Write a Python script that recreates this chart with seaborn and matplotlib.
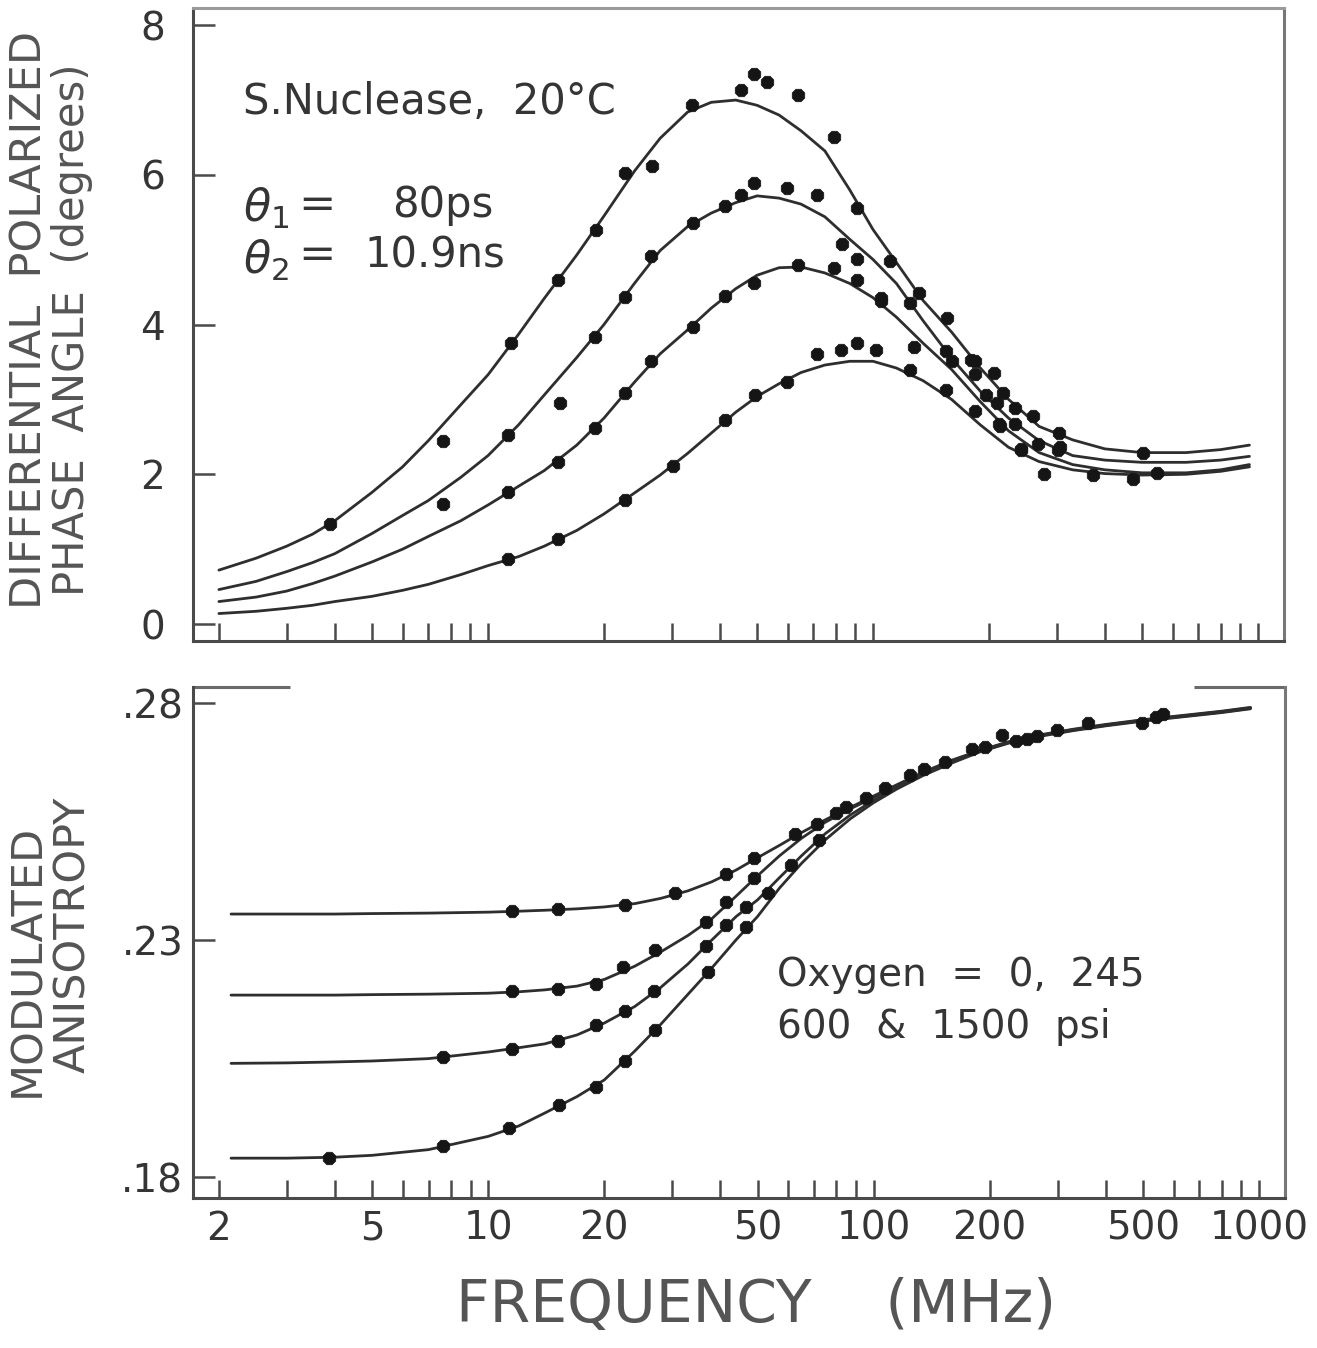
import numpy as np
import pandas as pd
import matplotlib
matplotlib.use("Agg")
import matplotlib.pyplot as plt
import seaborn as sns
from matplotlib.ticker import FixedLocator, FixedFormatter, NullLocator

# ---------------- data ----------------
# Top panel: differential polarized phase angle (degrees), fitted curves
top_freq = [2, 2.5, 3, 3.5, 4, 5, 6, 7, 8.5, 10, 12, 14, 17, 20, 24, 28, 33, 38, 44, 50,
            57, 65, 75, 87, 100, 115, 135, 160, 190, 225, 270, 330, 400, 500, 650, 800, 950]
top_curve1 = [0.72, 0.88, 1.04, 1.20, 1.38, 1.76, 2.10, 2.45, 2.93, 3.33, 3.87, 4.35, 4.93,
              5.45, 6.05, 6.49, 6.84, 6.97, 7.00, 6.93, 6.80, 6.59, 6.32, 5.80, 5.27, 4.83,
              4.32, 3.90, 3.42, 3.00, 2.64, 2.46, 2.34, 2.29, 2.29, 2.33, 2.39]
top_curve2 = [0.46, 0.57, 0.70, 0.82, 0.94, 1.21, 1.45, 1.65, 1.96, 2.25, 2.66, 3.06, 3.56,
              4.00, 4.55, 4.99, 5.31, 5.49, 5.63, 5.72, 5.69, 5.61, 5.44, 5.14, 4.87, 4.55,
              4.05, 3.55, 3.11, 2.75, 2.45, 2.25, 2.19, 2.16, 2.16, 2.19, 2.24]
top_curve3 = [0.30, 0.36, 0.44, 0.54, 0.64, 0.83, 1.00, 1.17, 1.38, 1.59, 1.84, 2.05, 2.39,
              2.75, 3.23, 3.61, 3.93, 4.22, 4.48, 4.66, 4.76, 4.77, 4.69, 4.55, 4.36, 4.10,
              3.75, 3.40, 2.97, 2.58, 2.29, 2.13, 2.06, 2.02, 2.02, 2.06, 2.13]
top_curve4 = [0.14, 0.17, 0.21, 0.25, 0.30, 0.37, 0.45, 0.53, 0.66, 0.78, 0.90, 1.04, 1.25,
              1.47, 1.75, 1.99, 2.28, 2.55, 2.83, 3.04, 3.21, 3.36, 3.46, 3.51, 3.51, 3.42,
              3.25, 3.00, 2.66, 2.36, 2.17, 2.06, 2.01, 1.99, 2.00, 2.04, 2.10]

# Top panel measured points
top_pts1_f = [3.89, 7.65, 11.5, 15.2, 19.1, 22.7, 26.7, 33.8, 45.4, 49.1, 53.1, 63.8, 79.2,
              90.8, 110.6, 131.5, 156, 184, 206, 218, 234, 260, 304, 502]
top_pts1_v = [1.33, 2.45, 3.76, 4.60, 5.27, 6.03, 6.12, 6.93, 7.13, 7.35, 7.24, 7.07, 6.50,
              5.56, 4.85, 4.42, 4.09, 3.51, 3.35, 3.09, 2.89, 2.78, 2.55, 2.28]
top_pts2_f = [7.62, 11.3, 15.4, 19.0, 22.7, 26.5, 34, 41.3, 45.4, 49.1, 59.8, 71.6, 83, 90.8,
              105, 125, 155, 180, 197, 210, 234, 268, 306, 372, 473, 545]
top_pts2_v = [1.60, 2.53, 2.95, 3.84, 4.37, 4.91, 5.36, 5.58, 5.73, 5.89, 5.82, 5.73, 5.08,
              4.87, 4.35, 4.29, 3.65, 3.53, 3.06, 2.95, 2.67, 2.41, 2.36, 1.99, 1.94, 2.02]
top_pts3_f = [11.3, 15.2, 19.0, 22.7, 26.5, 34, 41.3, 49.1, 63.8, 79.2, 90.8, 105, 128, 160,
              184, 212, 242, 278, 302]
top_pts3_v = [1.77, 2.17, 2.62, 3.09, 3.51, 3.97, 4.38, 4.56, 4.79, 4.76, 4.59, 4.32, 3.70,
              3.51, 3.34, 2.67, 2.33, 2.00, 2.33]
top_pts4_f = [11.3, 15.2, 22.7, 30.2, 41.3, 49.4, 59.8, 71.6, 82.6, 90.8, 102, 125, 155, 184,
              214, 242]
top_pts4_v = [0.87, 1.13, 1.66, 2.11, 2.72, 3.06, 3.23, 3.61, 3.66, 3.76, 3.66, 3.40, 3.13,
              2.84, 2.64, 2.34]

# Bottom panel: modulated anisotropy, fitted curves (oxygen 0, 245, 600, 1500 psi)
bot_freq = [2.15, 3, 4, 5, 7, 10, 12, 14, 17, 20, 24, 28, 33, 38, 44, 50, 57, 65, 75, 87,
            100, 115, 135, 160, 190, 225, 270, 330, 400, 500, 650, 800, 950]
bot_curveA = [0.2355, 0.2355, 0.2355, 0.2356, 0.2357, 0.2359, 0.2361, 0.2363, 0.2366, 0.2370,
              0.2377, 0.2388, 0.2404, 0.2423, 0.2448, 0.2474, 0.2500, 0.2527, 0.2554, 0.2580,
              0.2604, 0.2628, 0.2655, 0.2680, 0.2701, 0.2719, 0.2733, 0.2745, 0.2755, 0.2765,
              0.2775, 0.2783, 0.2791]
bot_curveB = [0.2184, 0.2184, 0.2184, 0.2185, 0.2186, 0.2188, 0.2191, 0.2195, 0.2203, 0.2217,
              0.2245, 0.2275, 0.2310, 0.2345, 0.2393, 0.2436, 0.2478, 0.2515, 0.2549, 0.2577,
              0.2601, 0.2626, 0.2653, 0.2678, 0.2700, 0.2718, 0.2732, 0.2744, 0.2754, 0.2764,
              0.2774, 0.2782, 0.2790]
bot_curveC = [0.2040, 0.2041, 0.2043, 0.2045, 0.2050, 0.2064, 0.2073, 0.2081, 0.2100, 0.2125,
              0.2160, 0.2200, 0.2250, 0.2300, 0.2350, 0.2385, 0.2432, 0.2478, 0.2525, 0.2564,
              0.2595, 0.2622, 0.2650, 0.2676, 0.2699, 0.2717, 0.2731, 0.2743, 0.2753, 0.2763,
              0.2773, 0.2781, 0.2789]
bot_curveD = [0.1840, 0.1840, 0.1842, 0.1846, 0.1858, 0.1886, 0.1908, 0.1935, 0.1970, 0.2005,
              0.2066, 0.2122, 0.2186, 0.2241, 0.2301, 0.2350, 0.2410, 0.2462, 0.2512, 0.2556,
              0.2590, 0.2619, 0.2648, 0.2674, 0.2698, 0.2716, 0.2730, 0.2742, 0.2752, 0.2762,
              0.2772, 0.2780, 0.2788]

# Bottom panel measured points
bot_ptsA_f = [11.5, 15.2, 22.7, 30.6, 41.4, 48.8, 62.5, 80, 124, 194, 266, 496]
bot_ptsA_v = [0.2361, 0.2366, 0.2374, 0.2399, 0.2440, 0.2473, 0.2524, 0.2568, 0.2649, 0.2708,
              0.2731, 0.2758]
bot_ptsB_f = [11.5, 15.2, 19.0, 22.3, 27.0, 36.7, 41.4, 48.8, 71.1, 107, 180, 234, 361]
bot_ptsB_v = [0.2192, 0.2197, 0.2208, 0.2243, 0.2279, 0.2338, 0.2381, 0.2431, 0.2546, 0.2621,
              0.2703, 0.2720, 0.2757]
bot_ptsC_f = [7.65, 11.5, 15.2, 19.0, 22.7, 26.9, 36.7, 41.4, 46.6, 53.1, 72, 95.5, 153, 215,
              299, 565]
bot_ptsC_v = [0.2053, 0.2071, 0.2087, 0.2121, 0.2150, 0.2192, 0.2287, 0.2331, 0.2369, 0.2399,
              0.2512, 0.2599, 0.2676, 0.2733, 0.2743, 0.2776]
bot_ptsD_f = [3.87, 7.62, 11.3, 15.3, 19.0, 22.7, 27.1, 37.2, 46.6, 60.9, 85, 135, 250, 540]
bot_ptsD_v = [0.1841, 0.1865, 0.1903, 0.1952, 0.1990, 0.2045, 0.2110, 0.2232, 0.2327, 0.2459,
              0.2580, 0.2660, 0.2725, 0.2770]

x_ticks = [2, 3, 4, 5, 6, 7, 8, 9, 10, 20, 30, 40, 50, 60, 70, 80, 90, 100,
           200, 300, 400, 500, 600, 700, 800, 900, 1000]
x_labeled = {2: "2", 5: "5", 10: "10", 20: "20", 50: "50", 100: "100",
             200: "200", 500: "500", 1000: "1000"}
top_yticks = [0, 2, 4, 6, 8]
top_ylabels = ["0", "2", "4", "6", "8"]
bot_yticks = [0.18, 0.23, 0.28]
bot_ylabels = [".18", ".23", ".28"]

# ---------------- tables ----------------
def long_df(freq, curves):
    rows = []
    for name, vals in curves.items():
        for f, v in zip(freq, vals):
            rows.append({"freq": f, "value": v, "series": name})
    return pd.DataFrame(rows)

def pts_df(pairs):
    rows = []
    for name, (fs, vs) in pairs.items():
        for f, v in zip(fs, vs):
            rows.append({"freq": f, "value": v, "series": name})
    return pd.DataFrame(rows)

top_lines = long_df(top_freq, {"1": top_curve1, "2": top_curve2, "3": top_curve3, "4": top_curve4})
bot_lines = long_df(bot_freq, {"A": bot_curveA, "B": bot_curveB, "C": bot_curveC, "D": bot_curveD})
top_pts = pts_df({"1": (top_pts1_f, top_pts1_v), "2": (top_pts2_f, top_pts2_v),
                  "3": (top_pts3_f, top_pts3_v), "4": (top_pts4_f, top_pts4_v)})
bot_pts = pts_df({"A": (bot_ptsA_f, bot_ptsA_v), "B": (bot_ptsB_f, bot_ptsB_v),
                  "C": (bot_ptsC_f, bot_ptsC_v), "D": (bot_ptsD_f, bot_ptsD_v)})

# ---------------- figure ----------------
sns.set_theme(style="ticks")
plt.rcParams['font.family'] = ['DejaVu Sans']
plt.rcParams['mathtext.fontset'] = 'dejavusans'

W, H = 1317, 1348
fig = plt.figure(figsize=(W / 100, H / 100), dpi=100)
fig.patch.set_facecolor("white")

def fx(px):
    return px / W

def fy(py):
    return 1 - py / H

ax1 = fig.add_axes([fx(193), fy(641), fx(1284) - fx(193), fy(8) - fy(641)])
ax2 = fig.add_axes([fx(193), fy(1197.5), fx(1285) - fx(193), fy(687) - fy(1197.5)])

LINE_C = "#2e2e2e"
PT_C = "#151515"
TXT_C = "#353535"
SPINE_C = "#4a4a4a"
LAB_C = "#555555"

for ax, lines, pts in [(ax1, top_lines, top_pts), (ax2, bot_lines, bot_pts)]:
    ax.set_xscale("log")
    sns.lineplot(data=lines, x="freq", y="value", units="series", estimator=None,
                 color=LINE_C, lw=2.0, sort=False, legend=False, ax=ax)
    sns.scatterplot(data=pts, x="freq", y="value", marker="8", s=95, color=PT_C,
                    edgecolor=PT_C, linewidth=0.5, legend=False, ax=ax, zorder=5)
    ax.set_xlim(1.713, 1168)
    ax.xaxis.set_major_locator(FixedLocator(x_ticks))
    ax.xaxis.set_minor_locator(NullLocator())
    ax.set_xlabel("")
    ax.set_ylabel("")
    ax.set_facecolor("white")
    ax.grid(False)
    ax.tick_params(axis="x", which="major", direction="in", length=13, width=1.8,
                   color=SPINE_C, labelsize=28, labelcolor=TXT_C, pad=9)
    ax.tick_params(axis="y", which="major", direction="in", length=16, width=1.8,
                   color=SPINE_C, labelsize=28, labelcolor=TXT_C)
    for side in ["left", "bottom", "right", "top"]:
        ax.spines[side].set_color(SPINE_C)
        ax.spines[side].set_linewidth(2.2)

# Top panel axes
ax1.set_ylim(-0.227, 8.23)
ax1.yaxis.set_major_locator(FixedLocator(top_yticks))
ax1.yaxis.set_major_formatter(FixedFormatter(top_ylabels))
ax1.yaxis.set_minor_locator(NullLocator())
ax1.tick_params(axis="y", pad=20)
ax1.xaxis.set_major_formatter(FixedFormatter([""] * len(x_ticks)))
ax1.spines["top"].set_color("#9a9a9a")
ax1.spines["right"].set_color("#777777")

# Bottom panel axes
ax2.set_ylim(0.1757, 0.2834)
ax2.yaxis.set_major_locator(FixedLocator(bot_yticks))
ax2.yaxis.set_major_formatter(FixedFormatter(bot_ylabels))
ax2.yaxis.set_minor_locator(NullLocator())
ax2.tick_params(axis="y", pad=7)
ax2.xaxis.set_major_formatter(FixedFormatter([x_labeled.get(t, "") for t in x_ticks]))
ax2.spines["top"].set_visible(False)
ax2.spines["right"].set_color("#777777")
for x0, x1 in [(0.0, 0.089), (0.917, 1.0)]:
    ax2.plot([x0, x1], [1, 1], transform=ax2.transAxes, color="#6a6a6a", lw=2.2,
             clip_on=False, solid_capstyle="butt")

# ---------------- texts ----------------
fig.text(fx(30), fy(320), "DIFFERENTIAL  POLARIZED", rotation=90, ha="center", va="center",
         fontsize=31, color=LAB_C)
fig.text(fx(72), fy(330), "PHASE  ANGLE  (degrees)", rotation=90, ha="center", va="center",
         fontsize=30, color=LAB_C)
fig.text(fx(27), fy(960), "MODULATED", rotation=90, ha="center", va="center",
         fontsize=31, color=LAB_C)
fig.text(fx(73), fy(935), "ANISOTROPY", rotation=90, ha="center", va="center",
         fontsize=31, color=LAB_C)
fig.text(fx(756), fy(1305), "FREQUENCY    (MHz)", ha="center", va="center",
         fontsize=42, color=LAB_C)

fig.text(fx(243), fy(102), "S.Nuclease,  20°C", ha="left", va="center", fontsize=30, color=TXT_C)
fig.text(fx(243), fy(208), r"$\theta_1$", ha="left", va="center", fontsize=32, color=TXT_C)
fig.text(fx(298), fy(205), "=", ha="left", va="center", fontsize=32, color=TXT_C)
fig.text(fx(392), fy(205), "80ps", ha="left", va="center", fontsize=30, color=TXT_C)
fig.text(fx(243), fy(260), r"$\theta_2$", ha="left", va="center", fontsize=32, color=TXT_C)
fig.text(fx(298), fy(256), "=", ha="left", va="center", fontsize=32, color=TXT_C)
fig.text(fx(364), fy(256), "10.9ns", ha="left", va="center", fontsize=30, color=TXT_C)

fig.text(fx(777), fy(975), "Oxygen  =  0,  245", ha="left", va="center", fontsize=28, color=TXT_C)
fig.text(fx(777), fy(1027), "600  &  1500  psi", ha="left", va="center", fontsize=28, color=TXT_C)

fig.savefig("out.png", dpi=100, facecolor="white")
